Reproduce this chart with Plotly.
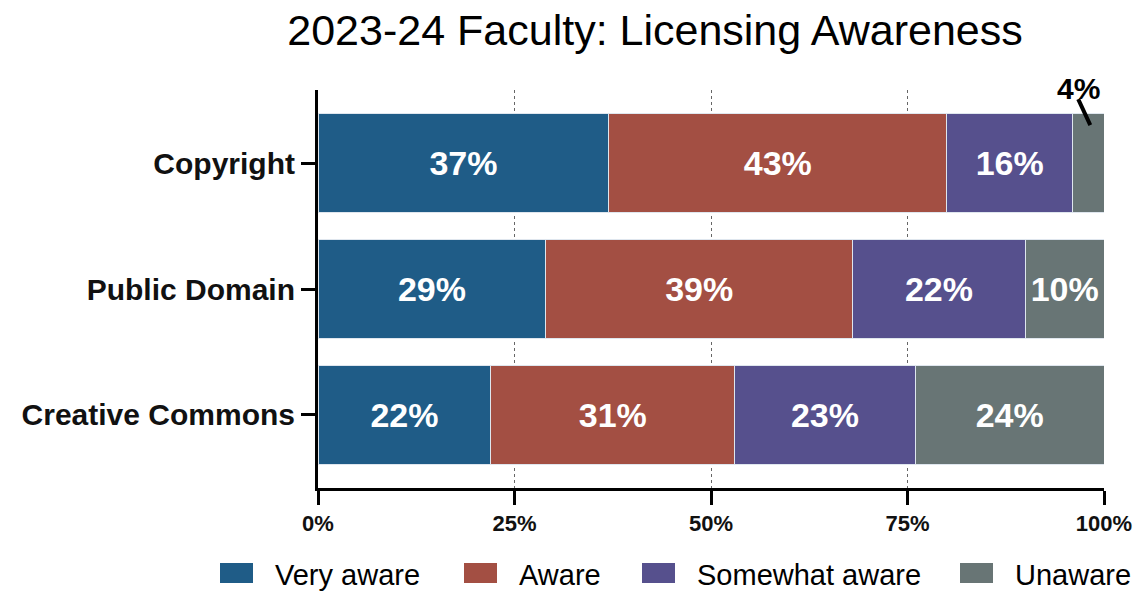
import plotly.graph_objects as go

categories = ["Copyright", "Public Domain", "Creative Commons"]
series_names = ["Very aware", "Aware", "Somewhat aware", "Unaware"]
very_aware = [37, 29, 22]
aware = [43, 39, 31]
somewhat_aware = [16, 22, 23]
unaware = [4, 10, 24]
colors = ["#1f5c87", "#a34f43", "#56508d", "#687575"]
x_ticks = [0, 25, 50, 75, 100]
x_tick_labels = ["0%", "25%", "50%", "75%", "100%"]

W, H = 1137, 592
# layout constants (pixels of the plot area)
PL, PR, PT, PB = 318, 1104, 90, 488


def px_x(sx):
    return (sx - PL) / (PR - PL)


def px_y(sy):
    return (PB - sy) / (PB - PT)


all_values = [very_aware, aware, somewhat_aware, unaware]
fig = go.Figure()
for name, vals, col in zip(series_names, all_values, colors):
    texts = [f"{v}%" if v >= 8 else "" for v in vals]
    fig.add_trace(go.Bar(
        y=categories, x=vals, name=name, orientation="h",
        marker=dict(color=col, line=dict(color="#dfe6ee", width=1)),
        text=texts, textposition="inside", insidetextanchor="middle",
        textfont=dict(family="Liberation Sans", size=34, color="white", weight="bold"),
        width=0.79, hoverinfo="skip", showlegend=False,
    ))

# outside label for the small Copyright "Unaware" segment
small_idx = 0
small_x = very_aware[small_idx] + aware[small_idx] + somewhat_aware[small_idx] + unaware[small_idx] / 2
fig.add_annotation(
    x=small_x, y=categories[small_idx], xref="x", yref="y",
    text=f"<b>{unaware[small_idx]}%</b>", showarrow=False,
    xshift=-10, yshift=75,
    font=dict(family="Liberation Sans", size=30, color="black"),
)
# leader line
fig.add_annotation(
    x=small_x, y=categories[small_idx], xref="x", yref="y",
    text=" ", showarrow=True, arrowhead=0, arrowwidth=4, arrowcolor="black",
    ax=-13, ay=-28, xshift=2, yshift=38, standoff=0, startstandoff=0,
    font=dict(size=1),
)

# custom legend (large rectangular swatches)
legend_swatch_left = [220, 464, 642, 960]
sw_w, sw_top, sw_bot, text_gap = 33, 563, 583, 20
for name, col, left in zip(series_names, colors, legend_swatch_left):
    fig.add_shape(type="rect", xref="paper", yref="paper",
                  x0=px_x(left), x1=px_x(left + sw_w), y0=px_y(sw_bot), y1=px_y(sw_top),
                  fillcolor=col, line=dict(width=0))
    fig.add_annotation(xref="paper", yref="paper", x=px_x(left + sw_w + text_gap),
                       y=px_y(575), xanchor="left", yanchor="middle", showarrow=False,
                       text=name, font=dict(family="Liberation Sans", size=29, color="black"))

fig.update_layout(
    barmode="stack",
    width=W, height=H,
    margin=dict(l=PL, r=W - PR, t=PT, b=H - PB, autoexpand=False),
    paper_bgcolor="white", plot_bgcolor="white",
    title=dict(text="2023-24 Faculty: Licensing Awareness", x=655 / W, xanchor="center",
               y=1 - 30 / H, yanchor="middle",
               font=dict(family="Liberation Sans", size=43, color="black")),
    showlegend=False,
    bargap=0.21,
)
fig.update_xaxes(
    range=[0, 100], tickvals=x_ticks, ticktext=[f"<b>{t}</b>" for t in x_tick_labels],
    showline=True, linecolor="black", linewidth=3,
    ticks="outside", ticklen=14, tickwidth=3, tickcolor="black",
    tickfont=dict(family="Liberation Sans", size=22, color="#111111"),
    showgrid=True, gridcolor="#666666", griddash="dot", gridwidth=1,
    zeroline=False, fixedrange=True, automargin=False,
)
fig.update_yaxes(
    autorange=False, range=[2.58, -0.58],
    showline=True, linecolor="black", linewidth=3,
    ticks="outside", ticklen=14, tickwidth=3, tickcolor="black",
    tickfont=dict(family="Liberation Sans", size=30, color="#111111", weight="bold"),
    showgrid=False, zeroline=False, automargin=False,
)

fig.write_html("out.html", config={"displayModeBar": False},
               post_script="document.body.style.margin='0';document.body.style.overflow='hidden';")
